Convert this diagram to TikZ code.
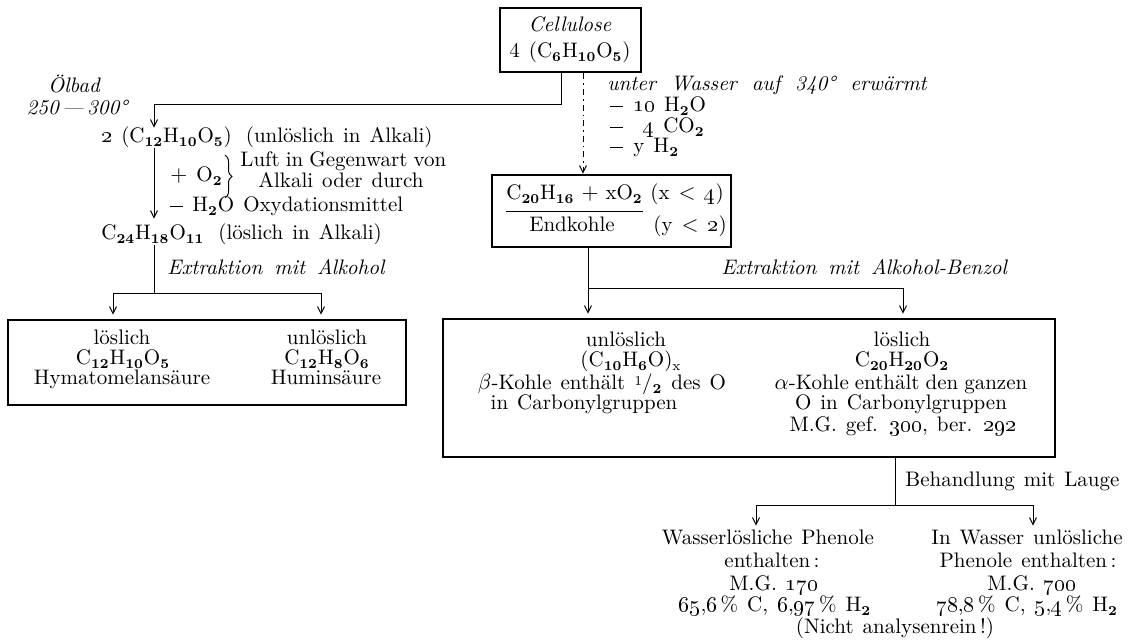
\documentclass[tikz,border=0pt]{standalone}
\usetikzlibrary{arrows.meta,decorations.pathreplacing}
\newcommand\fs{\fontsize{10.5pt}{10.5pt}\selectfont\spaceskip=4.5pt plus 1pt minus 0.5pt\relax}
\newcommand\fsi{\fs\itshape\spaceskip=6pt plus 1pt\relax}
\newcommand\fsw{\fs\itshape\spaceskip=7.5pt plus 1pt\relax}
\newcommand\osn[1]{\oldstylenums{#1}}
\newcommand\sbb[1]{\textsubscript{\fontsize{6.8pt}{6.8pt}\selectfont\bfseries #1}}
\newcommand\sbn[1]{\textsubscript{\fontsize{6.8pt}{6.8pt}\selectfont #1}}
\newcommand\dsh{\rule[2.6pt]{6.5pt}{0.45pt}}
\begin{document}
\begin{tikzpicture}[x=0.5pt,y=-0.5pt,
  lbl/.style={inner sep=0pt,text height=7.4pt,text depth=2.6pt,font=\fs},
  ital/.style={lbl,font=\fsi},
  box/.style={draw,line width=1.3pt,inner sep=0pt},
  conn/.style={line width=0.5pt},
  arr/.style={conn,-{Straight Barb[length=3.5pt,width=3.5pt]}},
  dashdot/.style={dash pattern=on 3pt off 2pt on 0.8pt off 2pt}]
\fill[white] (0,0) rectangle (1143,642);
\useasboundingbox (0,0) rectangle (1143,642);

% Cellulose
\node[box,minimum width=70.5pt,minimum height=32pt] (cell) at (570.5,40) {};
\node[ital] (cellA) at (570,27) {Cellulose};
\node[lbl] (cellB) at (570,53) {4 (C\sbb{6}H\sbb{10}O\sbb{5})};

\node[ital] (olb) at (74,88) {Ölbad};
\node[ital] (temp) at (77,110) {250\,---\,300°};

\node[ital,anchor=west,font=\fsw] (uw) at (607,86) {unter Wasser auf 340° erwärmt};
\node[lbl,anchor=west] (m1) at (610,107) {\dsh\hspace{5pt}\osn{10} H\sbb{2}O};
\node[lbl,anchor=west] (m2) at (610,128) {\dsh\hspace{10pt}\osn{4} CO\sbb{2}};
\node[lbl,anchor=west] (m3) at (610,148) {\dsh\hspace{5pt}y H\sbb{2}};

% Endkohle
\node[box,minimum width=119.5pt,minimum height=36pt] (endk) at (611.5,211) {};
\node[lbl,anchor=west] (e1) at (506,195) {C\sbb{20}H\sbb{16}\,\,$+$\,\,xO\sbb{2}};
\node[lbl,anchor=west] (e2) at (650,195) {(x $<$ \osn{4})};
\node[lbl] (e3) at (572,227) {Endkohle};
\node[lbl,anchor=west] (e4) at (653,227) {(y $<$ \osn{2})};
\draw[conn] ([yshift=-3pt]e1.south west) -- ([yshift=-3pt]e1.south east);

% left column
\node[lbl,anchor=west] (f1) at (101,138) {\osn{2} (C\sbb{12}H\sbb{10}O\sbb{5})\hspace{7pt}(unlöslich in Alkali)};
\node[lbl,anchor=west] (o2) at (170,177) {$+$ O\sbb{2}};
\draw[conn,decorate,decoration={brace,amplitude=3.5pt}] (225,155) -- (225,198);
\node[lbl,anchor=west] (luft) at (240,162) {\spaceskip=3pt Luft in Gegenwart von};
\node[lbl,anchor=west] (alk) at (258,183) {Alkali oder durch};
\node[lbl,anchor=west] (h2o) at (170,207) {\dsh\ H\sbb{2}O Oxydationsmittel};
\node[lbl,anchor=west] (f2) at (101,235) {C\sbb{24}H\sbb{18}O\sbb{11}\hspace{7pt}(löslich in Alkali)};
\node[ital,anchor=west] (ex1) at (167,270) {Extraktion mit Alkohol};

% left box
\node[box,minimum width=199pt,minimum height=42.5pt] (lbox) at (207,362.5) {};
\node[lbl] (la1) at (122,340) {löslich};
\node[lbl] (la2) at (123,360) {C\sbb{12}H\sbb{10}O\sbb{5}};
\node[lbl] (la3) at (122,380) {Hymatomelansäure};
\node[lbl] (lb1) at (327,340) {unlöslich};
\node[lbl] (lb2) at (327,360) {C\sbb{12}H\sbb{8}O\sbb{6}};
\node[lbl] (lb3) at (326,380) {Huminsäure};

% right side
\node[ital,anchor=west] (ex2) at (721,270) {Extraktion mit Alkohol-Benzol};
\node[box,minimum width=306pt,minimum height=69pt] (rbox) at (749,388) {};
\node[lbl] (ra1) at (626,342) {unlöslich};
\node[lbl] (ra2) at (631,362) {(C\sbb{10}H\sbb{6}O)\sbn{x}};
\node[lbl] (ra3) at (602,385) {$\beta$-Kohle enthält \raisebox{2.2pt}{\fontsize{6.8pt}{6.8pt}\selectfont 1}/\sbb{2} des O};
\node[lbl] (ra4) at (584,405) {in Carbonylgruppen};
\node[lbl] (rb1) at (902,342) {löslich};
\node[lbl] (rb2) at (902,362) {C\sbb{20}H\sbb{20}O\sbb{2}};
\node[lbl] (rb3) at (901,385) {\spaceskip=3pt $\alpha$-Kohle enthält den ganzen};
\node[lbl] (rb4) at (901,405) {O in Carbonylgruppen};
\node[lbl] (rb5) at (903,427) {M.G. gef. \osn{300}, ber. \osn{292}};

\node[lbl,anchor=west] (beh) at (905,482) {Behandlung mit Lauge};

\node[lbl] (p1) at (768,540) {Wasserlösliche Phenole};
\node[lbl] (p2) at (772,563) {enthalten\,:};
\node[lbl] (p3) at (774,586) {M.G. \osn{170}};
\node[lbl] (p4) at (775,607) {\osn{65},\osn{6}\,\% C, \osn{6},\osn{97}\,\% H\sbb{2}};
\node[lbl] (q1) at (1027,540) {In Wasser unlösliche};
\node[lbl] (q2) at (1028,563) {Phenole enthalten\,:};
\node[lbl] (q3) at (1032,586) {M.G. \osn{700}};
\node[lbl] (q4) at (1027,607) {\osn{78},\osn{8}\,\% C, \osn{5},\osn{4}\,\% H\sbb{2}};
\node[lbl] (nb) at (895,629) {(Nicht analysenrein\,!)};

% connectors
\coordinate (j1) at (561,104);
\coordinate (j2) at (154,104);
\draw[arr] (cell.south -| j1) -- (j1) -- (j2) -- (f1.north -| j2);
\coordinate (k1) at (583,0);
\draw[arr,dashdot] (cell.south -| k1) -- (endk.north -| k1);

\coordinate (v1) at (154,146);
\draw[arr,shorten >=3pt] (f1.south -| v1) -- (f2.north -| v1);
\coordinate (h1) at (154,293);
\coordinate (h2) at (113,293);
\coordinate (h3) at (321,293);
\draw[conn] (f2.south -| h1) -- (h1);
\draw[arr,shorten >=2pt] (h1) -- (h2) -- (lbox.north -| h2);
\draw[arr,shorten >=2pt] (h1) -- (h3) -- (lbox.north -| h3);

\coordinate (g1) at (588,288);
\coordinate (g2) at (903,288);
\draw[arr,shorten >=2pt] (endk.south -| g1) -- (rbox.north -| g1);
\draw[arr,shorten >=2pt] (g1) -- (g2) -- (rbox.north -| g2);

\coordinate (b1) at (895,505);
\coordinate (b2) at (756,505);
\coordinate (b3) at (1033,505);
\draw[conn] (rbox.south -| b1) -- (b1);
\draw[arr,shorten >=2pt] (b1) -- (b2) -- (p1.north -| b2);
\draw[arr,shorten >=2pt] (b1) -- (b3) -- (q1.north -| b3);
\end{tikzpicture}
\end{document}
